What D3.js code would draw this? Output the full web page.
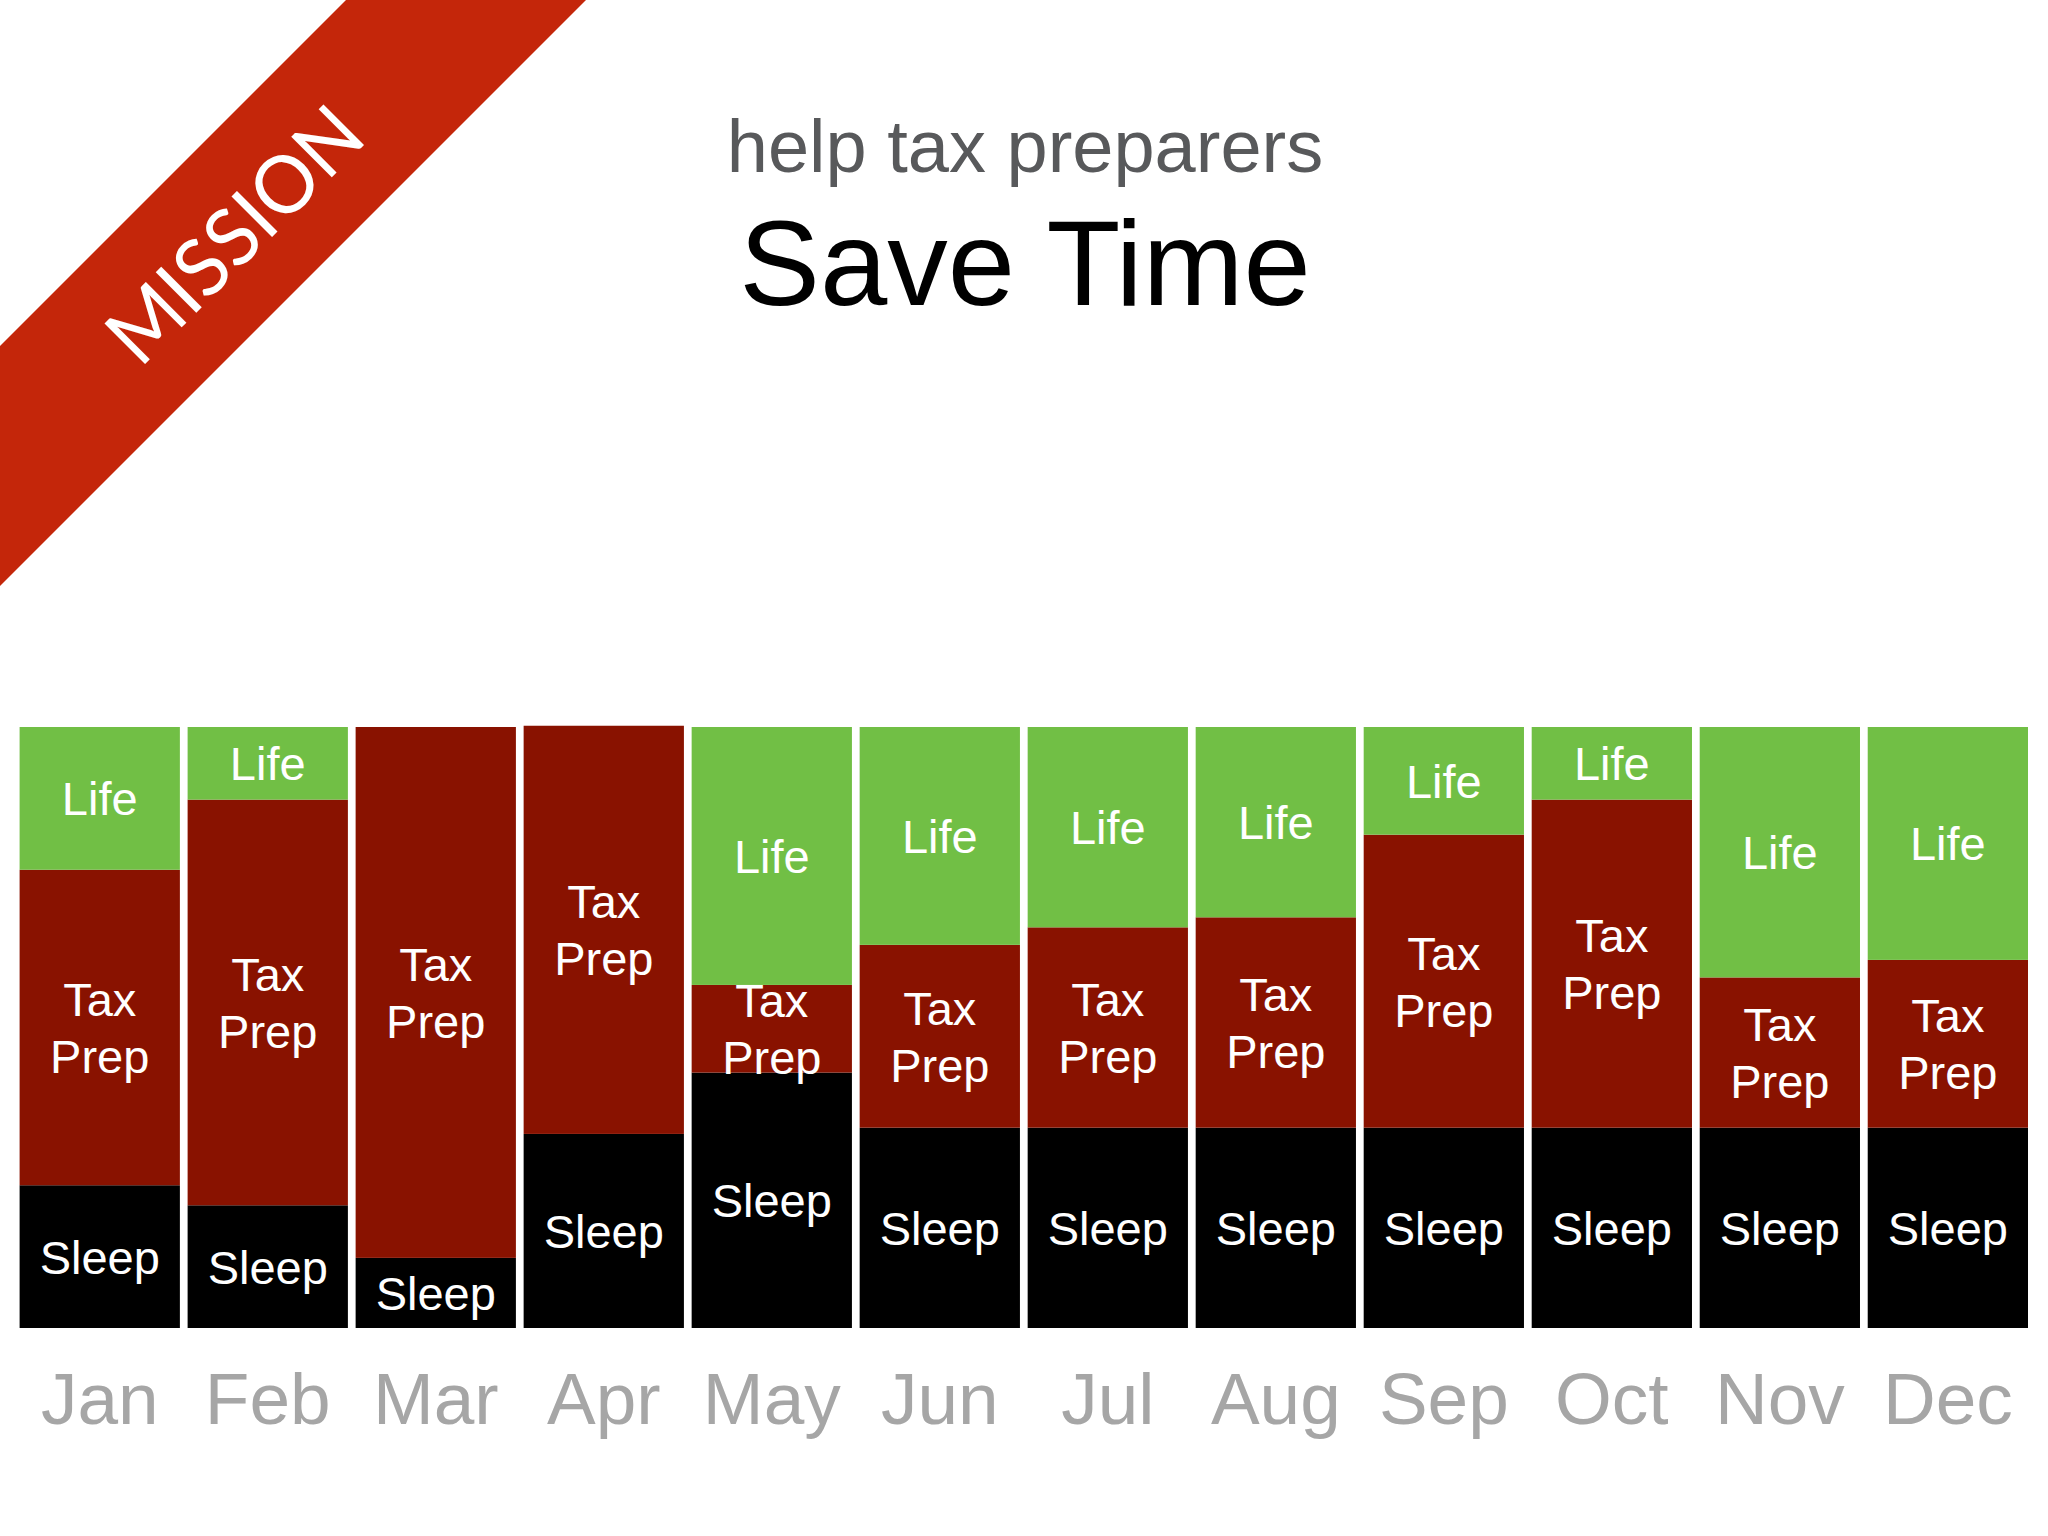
<!DOCTYPE html>
<html>
<head>
<meta charset="utf-8">
<script src="https://cdn.jsdelivr.net/npm/d3@7"></script>
<style>
  html, body { margin: 0; padding: 0; background: #fff; }
  svg { display: block; }
</style>
</head>
<body>
<div id="chart"></div>
<script>
// hours of the day, per month
const months = ["Jan","Feb","Mar","Apr","May","Jun","Jul","Aug","Sep","Oct","Nov","Dec"];
const sleepHours   = [5.7, 4.9, 2.8, 7.75, 10.2, 8, 8, 8, 8, 8, 8, 8];
const taxPrepHours = [12.6, 16.2, 21.2, 16.3, 3.5, 7.3, 8, 8.4, 11.7, 13.1, 6, 6.7];
const lifeHours    = [5.7, 2.9, 0, 0, 10.3, 8.7, 8, 7.6, 4.3, 2.9, 10, 9.3];
const seriesNames  = ["Sleep", "Tax Prep", "Life"];
const hourTicks    = [0, 24];

const width = 2048, height = 1536;
const colors = d3.scaleOrdinal()
  .domain(seriesNames)
  .range(["#000000", "#891200", "#71bf45"]);

// build table for d3.stack
var table = months.map(function(m, i) {
  return { month: m, "Sleep": sleepHours[i], "Tax Prep": taxPrepHours[i], "Life": lifeHours[i] };
});
var stacked = d3.stack().keys(seriesNames)(table);

var x = d3.scaleBand()
  .domain(months)
  .range([19.6, 2028])
  .paddingInner(0.046)
  .paddingOuter(0);
var y = d3.scaleLinear()
  .domain(d3.extent(hourTicks))
  .range([1328, 727]);

var svg = d3.select("#chart").append("svg")
  .attr("width", width)
  .attr("height", height);

// mission ribbon in the corner
svg.append("polygon")
  .attr("points", "346,0 586,0 0,586 0,346")
  .attr("fill", "#c4260a");
svg.append("text")
  .attr("transform", "translate(234,234) rotate(-45)")
  .attr("x", 0)
  .attr("y", 29)
  .attr("text-anchor", "middle")
  .attr("font-family", "Lato, 'Open Sans', sans-serif")
  .attr("font-weight", 400)
  .attr("font-size", 80)
  .attr("textLength", 324)
  .attr("lengthAdjust", "spacingAndGlyphs")
  .attr("fill", "#fff")
  .text("MISSION");

// titles
svg.append("text")
  .attr("x", 1025).attr("y", 172)
  .attr("text-anchor", "middle")
  .attr("font-family", "'Liberation Sans', Arial, sans-serif")
  .attr("font-size", 74)
  .attr("fill", "#58595b")
  .text("help tax preparers");
svg.append("text")
  .attr("x", 1025).attr("y", 305)
  .attr("text-anchor", "middle")
  .attr("font-family", "'Liberation Sans', Arial, sans-serif")
  .attr("font-size", 121)
  .attr("fill", "#000")
  .text("Save Time");

// stacked bars
var layer = svg.selectAll(".layer")
  .data(stacked)
  .enter().append("g")
  .attr("class", "layer")
  .attr("fill", function(d) { return colors(d.key); });

layer.selectAll("rect")
  .data(function(d) { return d; })
  .enter().append("rect")
  .attr("x", function(d) { return x(d.data.month); })
  .attr("width", x.bandwidth())
  .attr("y", function(d) { return y(d[1]); })
  .attr("height", function(d) { return y(d[0]) - y(d[1]); });

// segment labels
var labelSize = 47, lineGap = 57, capH = 34;
stacked.forEach(function(s) {
  var lines = s.key.split(" ");
  s.forEach(function(d) {
    if (d[1] - d[0] <= 0) return;
    var cx = x(d.data.month) + x.bandwidth() / 2;
    var cy = (y(d[0]) + y(d[1])) / 2;
    var top = cy - (capH + lineGap * (lines.length - 1)) / 2;
    var t = svg.append("text")
      .attr("text-anchor", "middle")
      .attr("font-family", "'Liberation Sans', Arial, sans-serif")
      .attr("font-size", labelSize)
      .attr("fill", "#fff");
    lines.forEach(function(line, j) {
      t.append("tspan")
        .attr("x", cx)
        .attr("y", top + capH + j * lineGap)
        .text(line);
    });
  });
});

// month axis
var axis = svg.append("g")
  .attr("transform", "translate(0," + y(0) + ")")
  .call(d3.axisBottom(x).tickSize(0));
axis.select(".domain").remove();
axis.selectAll("text")
  .attr("y", 96)
  .attr("dy", null)
  .attr("font-family", "'Liberation Sans', Arial, sans-serif")
  .attr("font-size", 73)
  .attr("fill", "#a6a6a6");
</script>
</body>
</html>
